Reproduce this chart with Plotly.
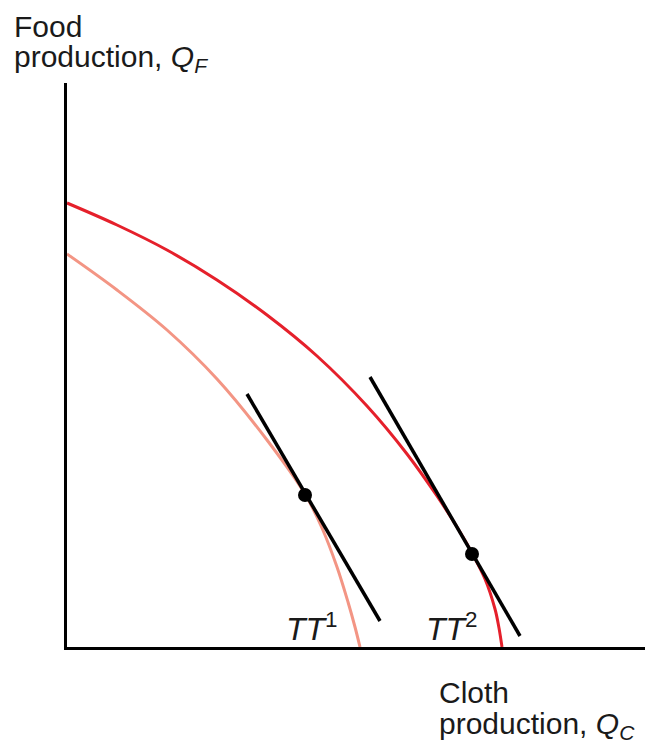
import plotly.graph_objects as go

# Outer PPF (red), data units: x = cloth, y = food
red_x = [0, 50, 100, 150, 200, 250, 300, 340, 370, 390, 405, 418, 428, 432, 435]
red_y = [444, 422, 397, 367, 332, 291, 241, 193, 151, 120, 94, 68, 38, 19, 0]
# Inner PPF (salmon)
sal_x = [0, 50, 100, 150, 200, 238, 255, 270, 281, 288, 293]
sal_y = [393, 357, 317, 268, 207, 153, 119, 80, 45, 20, 0]
# Terms-of-trade lines
tt1_x = [180, 313]
tt1_y = [253, 26]
tt2_x = [303, 453]
tt2_y = [270, 11]
# Tangency points
pts_x = [238, 405]
pts_y = [152, 93]

RED = "#e5202b"
SALMON = "#f39584"
FONT = "Liberation Sans, Arial, Helvetica, sans-serif"

W, H = 650, 745
ML, MR, MT, MB = 67, 5, 83, 98

def px2paper(px, py):
    return (px - ML) / (W - ML - MR), (H - MB - py) / (H - MT - MB)

fig = go.Figure()
fig.add_trace(go.Scatter(x=sal_x, y=sal_y, mode="lines", line=dict(color=SALMON, width=3, shape="spline", smoothing=1.0), cliponaxis=False))
fig.add_trace(go.Scatter(x=red_x, y=red_y, mode="lines", line=dict(color=RED, width=3, shape="spline", smoothing=1.0), cliponaxis=False))
fig.add_trace(go.Scatter(x=tt1_x, y=tt1_y, mode="lines", line=dict(color="black", width=3.5)))
fig.add_trace(go.Scatter(x=tt2_x, y=tt2_y, mode="lines", line=dict(color="black", width=3.5)))
fig.add_trace(go.Scatter(x=pts_x, y=pts_y, mode="markers", marker=dict(color="black", size=14)))

ann = [
    ("Food", 12, 26, 30),
    ("production, <i>Q</i><sub><i>F</i></sub>", 12, 59, 30),
    ("Cloth", 437, 692, 30),
    ("production, <i>Q</i><sub><i>C</i></sub>", 437, 725, 30),
    ("<i>TT</i><sup>1</sup>", 284, 627, 32),
    ("<i>TT</i><sup>2</sup>", 424, 627, 32),
]
for text, px, py, size in ann:
    xp, yp = px2paper(px, py)
    fig.add_annotation(x=xp, y=yp, text=text, xref="paper", yref="paper",
                       xanchor="left", yanchor="middle", showarrow=False,
                       font=dict(family=FONT, size=size, color="#1a1a1a"))

fig.update_layout(
    width=W, height=H,
    margin=dict(l=ML, r=MR, t=MT, b=MB),
    paper_bgcolor="white", plot_bgcolor="white",
    showlegend=False,
    xaxis=dict(range=[0, W - ML - MR], showline=True, linecolor="black", linewidth=3,
               showgrid=False, zeroline=False, showticklabels=False, ticks=""),
    yaxis=dict(range=[0, H - MT - MB], showline=True, linecolor="black", linewidth=3,
               showgrid=False, zeroline=False, showticklabels=False, ticks=""),
)
fig.write_html("out.html", config={"displayModeBar": False},
               post_script="document.body.style.margin='0';document.body.style.overflow='hidden';")
